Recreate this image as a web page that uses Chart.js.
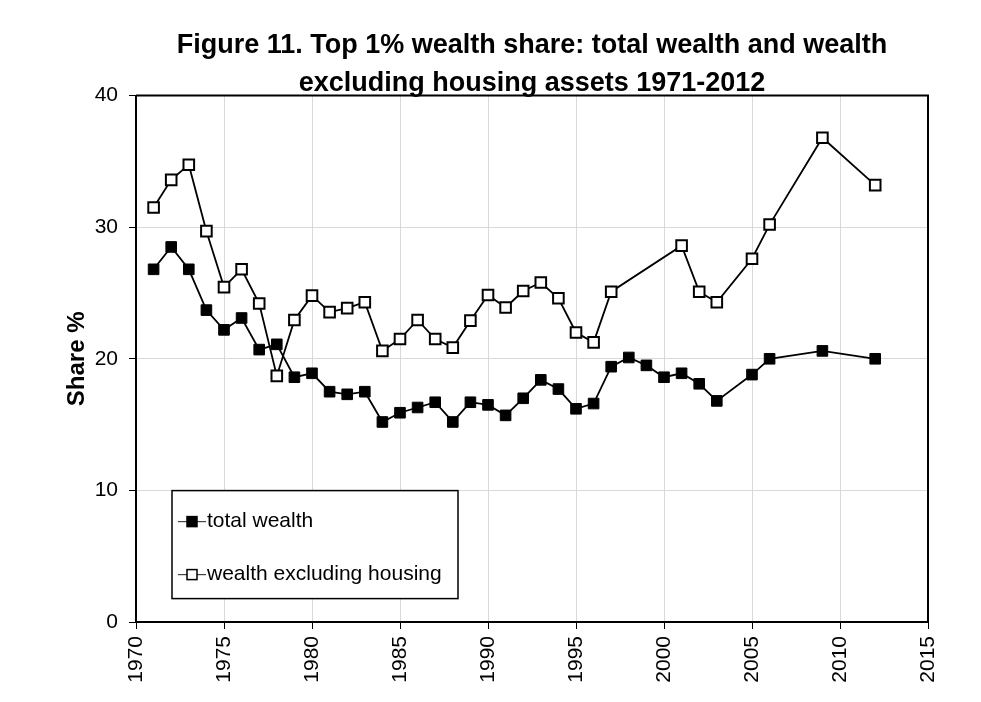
<!DOCTYPE html>
<html>
<head>
<meta charset="utf-8">
<script src="https://cdn.jsdelivr.net/npm/chart.js@4.4.1/dist/chart.umd.min.js"></script>
<style>
  html, body { margin: 0; padding: 0; background: #fff; }
  #wrap { width: 981px; height: 702px; }
</style>
</head>
<body>
<div id="wrap"><canvas id="wealth-chart" width="981" height="702"></canvas></div>
<script>
let chartTitle = ['Figure 11. Top 1% wealth share: total wealth and wealth', 'excluding housing assets 1971-2012'];
let yTitle = 'Share %';

let totalLabel = 'total wealth';
let totalYears = [1971, 1972, 1973, 1974, 1975, 1976, 1977, 1978, 1979, 1980,
                  1981, 1982, 1983, 1984, 1985, 1986, 1987, 1988, 1989, 1990,
                  1991, 1992, 1993, 1994, 1995, 1996, 1997, 1998, 1999, 2000,
                  2001, 2002, 2003, 2005, 2006, 2009, 2012];
let totalValues = [26.8, 28.5, 26.8, 23.7, 22.2, 23.1, 20.7, 21.1, 18.6, 18.9,
                   17.5, 17.3, 17.5, 15.2, 15.9, 16.3, 16.7, 15.2, 16.7, 16.5,
                   15.7, 17.0, 18.4, 17.7, 16.2, 16.6, 19.4, 20.1, 19.5, 18.6,
                   18.9, 18.1, 16.8, 18.8, 20.0, 20.6, 20.0];

let exclLabel = 'wealth excluding housing';
let exclYears = [1971, 1972, 1973, 1974, 1975, 1976, 1977, 1978, 1979, 1980,
                 1981, 1982, 1983, 1984, 1985, 1986, 1987, 1988, 1989, 1990,
                 1991, 1992, 1993, 1994, 1995, 1996, 1997,
                 2001, 2002, 2003, 2005, 2006, 2009, 2012];
let exclValues = [31.5, 33.6, 34.75, 29.7, 25.45, 26.8, 24.2, 18.7, 22.95, 24.8,
                  23.55, 23.85, 24.3, 20.6, 21.5, 22.95, 21.5, 20.85, 22.9, 24.85,
                  23.9, 25.15, 25.8, 24.6, 22.0, 21.25, 25.1,
                  28.6, 25.1, 24.3, 27.6, 30.2, 36.8, 33.2];

let xMin = 1970, xMax = 2015, xStep = 5;
let yMin = 0, yMax = 40, yStep = 10;

let fontFamily = '"Liberation Sans", Arial, Helvetica, sans-serif';
let colors = {
    line: '#000000',
    grid: '#d9d9d9',
    open: '#ffffff'
};

function toPoints(years, values) {
    return years.map((yr, i) => ({x: yr, y: values[i]}));
}

// box round the plot and the legend inside it
let framePlugin = {
    id: 'frame',
    beforeDatasetsDraw(chart) {
        let {ctx, chartArea: a} = chart;
        ctx.save();
        ctx.strokeStyle = '#000';
        ctx.lineWidth = 2;
        ctx.beginPath();
        ctx.moveTo(a.left, a.top);
        ctx.lineTo(a.right, a.top);
        ctx.lineTo(a.right, a.bottom);
        ctx.stroke();
        ctx.restore();
    },
    afterDatasetsDraw(chart) {
        let {ctx, chartArea: a} = chart;
        let boxX = a.left + 36, boxY = a.top + 395, boxW = 286, boxH = 108;
        ctx.save();
        ctx.fillStyle = '#fff';
        ctx.fillRect(boxX, boxY, boxW, boxH);
        ctx.strokeStyle = '#000';
        ctx.lineWidth = 1.5;
        ctx.strokeRect(boxX, boxY, boxW, boxH);
        ctx.font = '21px ' + fontFamily;
        ctx.textBaseline = 'middle';
        chart.data.datasets.forEach((ds, i) => {
            let cy = boxY + 31 + i * 53;
            let lx = boxX + 6;
            ctx.strokeStyle = '#444';
            ctx.lineWidth = 1.2;
            ctx.beginPath();
            ctx.moveTo(lx, cy);
            ctx.lineTo(lx + 28, cy);
            ctx.stroke();
            ctx.fillStyle = ds.pointBackgroundColor;
            ctx.fillRect(lx + 9, cy - 5, 10, 10);
            ctx.strokeStyle = '#000';
            ctx.lineWidth = 1.5;
            ctx.strokeRect(lx + 9, cy - 5, 10, 10);
            ctx.fillStyle = '#000';
            ctx.fillText(ds.label, lx + 29, cy);
        });
        ctx.restore();
    }
};

let data = {
    datasets: [
        {
            label: totalLabel,
            data: toPoints(totalYears, totalValues),
            borderColor: colors.line,
            borderWidth: 1.8,
            pointStyle: 'rect',
            pointRadius: 7.5,
            pointBackgroundColor: colors.line,
            pointBorderColor: colors.line,
            pointBorderWidth: 1,
            tension: 0
        },
        {
            label: exclLabel,
            data: toPoints(exclYears, exclValues),
            borderColor: colors.line,
            borderWidth: 1.8,
            pointStyle: 'rect',
            pointRadius: 7.5,
            pointBackgroundColor: colors.open,
            pointBorderColor: colors.line,
            pointBorderWidth: 2,
            tension: 0
        }
    ]
};

let options = {
    responsive: false,
    animation: false,
    layout: {
        padding: {left: 0, right: 53, top: 0, bottom: 0}
    },
    plugins: {
        legend: { display: false },
        tooltip: { enabled: false },
        title: {
            display: true,
            text: chartTitle,
            fullSize: false,
            color: '#000',
            font: { family: fontFamily, size: 27, weight: 'bold', lineHeight: 1.4 },
            padding: { top: 27, bottom: -7 }
        }
    },
    scales: {
        x: {
            type: 'linear',
            min: xMin,
            max: xMax,
            afterFit: scale => { scale.height = 80; },
            grid: { color: colors.grid, lineWidth: 1, tickColor: '#000', tickLength: 7 },
            border: { color: '#000', width: 2 },
            ticks: {
                stepSize: xStep,
                autoSkip: false,
                maxRotation: 90,
                minRotation: 90,
                padding: 7,
                color: '#000',
                font: { family: fontFamily, size: 21 },
                callback: value => String(value)
            }
        },
        y: {
            type: 'linear',
            min: yMin,
            max: yMax,
            afterFit: scale => { scale.width = 136; },
            grid: { color: colors.grid, lineWidth: 1, tickColor: '#000', tickLength: 7 },
            border: { color: '#000', width: 2 },
            title: {
                display: true,
                text: yTitle,
                color: '#000',
                font: { family: fontFamily, size: 24, weight: 'bold', lineHeight: 1.2 },
                padding: { top: 63, bottom: 0 }
            },
            ticks: {
                stepSize: yStep,
                padding: 11,
                color: '#000',
                font: { family: fontFamily, size: 21 }
            }
        }
    }
};

let config = {
    type: 'line',
    data: data,
    options: options,
    plugins: [framePlugin]
};

window.wealthChart = new Chart(document.getElementById('wealth-chart').getContext('2d'), config);
</script>
</body>
</html>
